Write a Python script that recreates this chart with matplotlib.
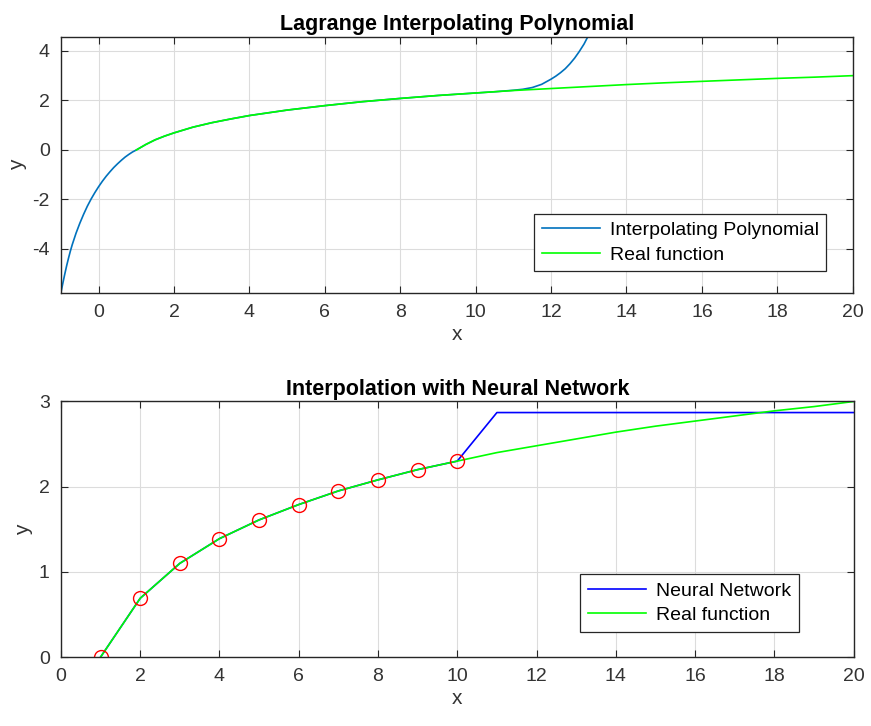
import matplotlib
matplotlib.use("Agg")
import matplotlib.pyplot as plt

plt.rcParams['font.family'] = ['Liberation Sans', 'DejaVu Sans']
plt.rcParams['axes.unicode_minus'] = False

# valores
x_real = list(range(1, 21))
y_real = [0.0, 0.69, 1.10, 1.39, 1.61, 1.79, 1.95, 2.08, 2.20, 2.30,
          2.40, 2.48, 2.56, 2.64, 2.71, 2.77, 2.83, 2.89, 2.94, 3.00]

# funcion real en la grafica de arriba (mas puntos al inicio)
x_real_top = [1, 1.25, 1.5, 1.75, 2, 2.5, 3, 3.5, 4, 5, 6, 7, 8, 9, 10,
              11, 12, 13, 14, 15, 16, 17, 18, 19, 20]
y_real_top = [0.0, 0.22, 0.41, 0.56, 0.69, 0.92, 1.10, 1.25, 1.39, 1.61, 1.79,
              1.95, 2.08, 2.20, 2.30, 2.40, 2.48, 2.56, 2.64, 2.71, 2.77,
              2.83, 2.89, 2.94, 3.00]

x_poly = [-1, -0.95, -0.9, -0.85, -0.8, -0.75, -0.7, -0.6, -0.5, -0.4, -0.3,
          -0.2, -0.1, 0, 0.1, 0.2, 0.3, 0.4, 0.5, 0.6, 0.7, 0.8, 0.9, 1,
          1.25, 1.5, 1.75, 2, 2.5, 3, 3.5, 4, 5, 6, 7, 8, 9, 10, 10.5, 11,
          11.25, 11.5, 11.75, 12, 12.125, 12.25, 12.375, 12.5, 12.625, 12.75,
          12.875, 13]
y_poly = [-5.76, -5.38, -5.02, -4.68, -4.37, -4.08, -3.82, -3.36, -2.96, -2.60,
          -2.27, -1.98, -1.72, -1.48, -1.26, -1.06, -0.88, -0.71, -0.56, -0.42,
          -0.29, -0.18, -0.08, 0.0, 0.22, 0.41, 0.56, 0.69, 0.92, 1.10, 1.25,
          1.39, 1.61, 1.79, 1.95, 2.08, 2.20, 2.30, 2.35, 2.41, 2.45, 2.52,
          2.65, 2.86, 2.98, 3.12, 3.28, 3.48, 3.71, 3.98, 4.28, 4.65]

x_train = list(range(1, 11))
y_train = y_real[:10]

x_nn = list(range(1, 21))
y_nn = y_real[:10] + [2.87] * 10

axis_col = '#262626'
text_col = '#333333'
fig = plt.figure(figsize=(8.71, 7.26), dpi=100)


def style(ax):
    ax.grid(True, color='#dcdcdc', linewidth=0.8)
    ax.set_axisbelow(True)
    ax.tick_params(direction='in', top=True, right=True, length=5,
                   colors=axis_col, labelsize=14, labelcolor=text_col, pad=8)
    for s in ax.spines.values():
        s.set_color(axis_col)
        s.set_linewidth(1.0)


# Polinomio de Lagrange
ax1 = fig.add_axes([0.070, 0.597, 0.909, 0.352])
ax1.plot(x_poly, y_poly, color='#0072BD', linewidth=1.2, label='Interpolating Polynomial')
ax1.plot(x_real_top, y_real_top, color='#00FF00', linewidth=1.2, label='Real function')
ax1.set_xlim(-1, 20)
ax1.set_ylim(-5.76, 4.56)
ax1.set_xticks(range(0, 21, 2))
ax1.set_yticks([-4, -2, 0, 2, 4])
ax1.set_title('Lagrange Interpolating Polynomial', fontsize=15.5, fontweight='bold', pad=5)
ax1.set_xlabel('x', fontsize=15, color=text_col, labelpad=3)
ax1.set_ylabel('y', fontsize=15, color=text_col, labelpad=4)
style(ax1)
leg1 = ax1.legend(loc='lower right', bbox_to_anchor=(0.979, 0.045), fontsize=14,
                  fancybox=False, edgecolor=axis_col, framealpha=1,
                  handlelength=3.0, borderpad=0.4, labelspacing=0.35,
                  handletextpad=0.5)
leg1.get_frame().set_linewidth(0.9)

# Red neuronal
ax2 = fig.add_axes([0.070, 0.095, 0.910, 0.352])
ax2.plot(x_nn, y_nn, color='#0000FF', linewidth=1.2, label='Neural Network')
ax2.plot(x_real, y_real, color='#00FF00', linewidth=1.2, label='Real function')
ax2.plot(x_train, y_train, 'o', color='red', markerfacecolor='none',
         markersize=10, markeredgewidth=1.0)
ax2.set_xlim(0, 20)
ax2.set_ylim(0, 3)
ax2.set_xticks(range(0, 21, 2))
ax2.set_yticks([0, 1, 2, 3])
ax2.set_title('Interpolation with Neural Network', fontsize=15.5, fontweight='bold', pad=5)
ax2.set_xlabel('x', fontsize=15, color=text_col, labelpad=3)
ax2.set_ylabel('y', fontsize=15, color=text_col, labelpad=4)
style(ax2)
leg2 = ax2.legend(loc='lower right', bbox_to_anchor=(0.943, 0.06), fontsize=14,
                  fancybox=False, edgecolor=axis_col, framealpha=1,
                  handlelength=3.0, borderpad=0.4, labelspacing=0.35,
                  handletextpad=0.5)
leg2.get_frame().set_linewidth(0.9)

plt.savefig('out.png', dpi=100)
